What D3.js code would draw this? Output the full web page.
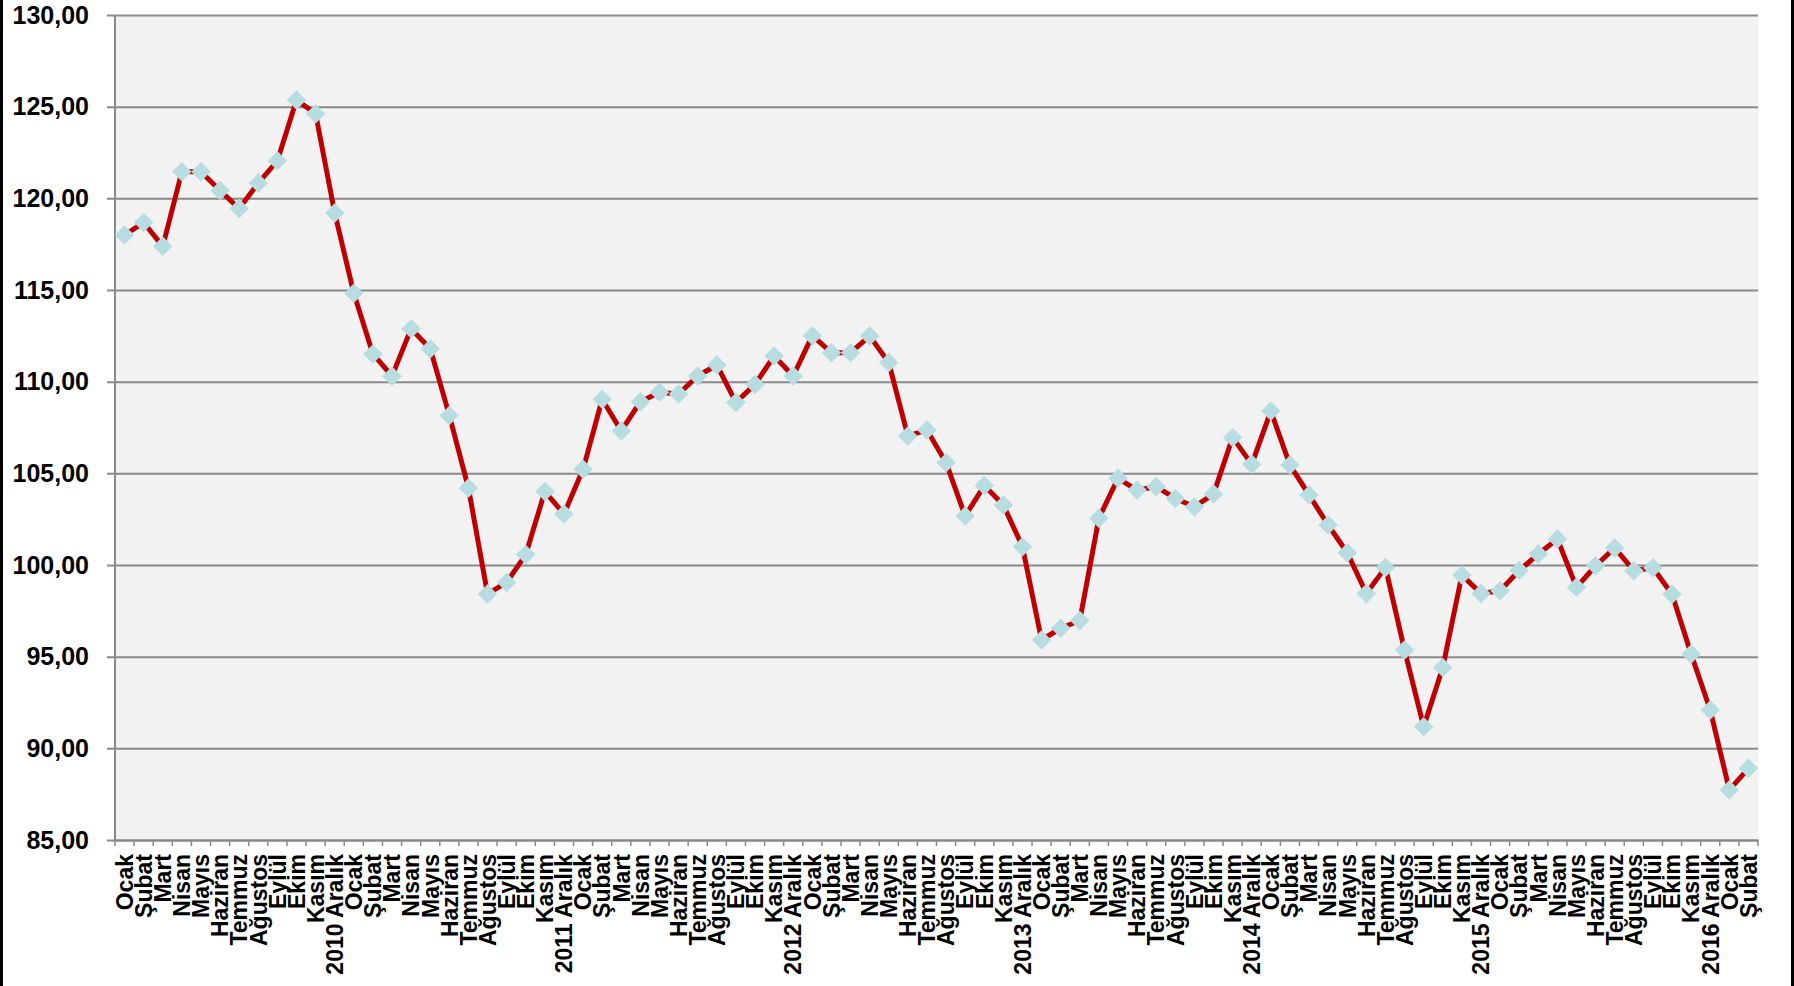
<!DOCTYPE html>
<html>
<head>
<meta charset="utf-8">
<script src="https://cdn.jsdelivr.net/npm/d3@7"></script>
<style>
  body { margin: 0; background: #fff; }
  svg { display: block; font-family: "Liberation Sans", Arial, sans-serif; }
</style>
</head>
<body>
<svg class="chart"></svg>
<script>
var w = 1794;
var h = 986;
var margin = { left: 115, right: 36, top: 15, bottom: 146 };

// x categories, one per month (year label goes on December)
var categories = [
  "Ocak", "Şubat", "Mart", "Nisan", "Mayıs", "Haziran", "Temmuz", "Ağustos", "Eylül", "Ekim", "Kasım", "2010 Aralık",
  "Ocak", "Şubat", "Mart", "Nisan", "Mayıs", "Haziran", "Temmuz", "Ağustos", "Eylül", "Ekim", "Kasım", "2011 Aralık",
  "Ocak", "Şubat", "Mart", "Nisan", "Mayıs", "Haziran", "Temmuz", "Ağustos", "Eylül", "Ekim", "Kasım", "2012 Aralık",
  "Ocak", "Şubat", "Mart", "Nisan", "Mayıs", "Haziran", "Temmuz", "Ağustos", "Eylül", "Ekim", "Kasım", "2013 Aralık",
  "Ocak", "Şubat", "Mart", "Nisan", "Mayıs", "Haziran", "Temmuz", "Ağustos", "Eylül", "Ekim", "Kasım", "2014 Aralık",
  "Ocak", "Şubat", "Mart", "Nisan", "Mayıs", "Haziran", "Temmuz", "Ağustos", "Eylül", "Ekim", "Kasım", "2015 Aralık",
  "Ocak", "Şubat", "Mart", "Nisan", "Mayıs", "Haziran", "Temmuz", "Ağustos", "Eylül", "Ekim", "Kasım", "2016 Aralık",
  "Ocak", "Şubat"
];

// index values
var values = [
  118.0, 118.68, 117.38, 121.45, 121.45, 120.43, 119.44, 120.83, 122.05, 125.36, 124.62, 119.2,
  114.82, 111.51, 110.3, 112.89, 111.8, 108.16, 104.2, 98.42, 99.05, 100.57, 104.01, 102.78,
  105.22, 109.04, 107.31, 108.91, 109.42, 109.33, 110.31, 110.91, 108.87, 109.85, 111.4, 110.31,
  112.51, 111.58, 111.58, 112.49, 111.04, 107.04, 107.36, 105.58, 102.67, 104.33, 103.27, 101.0,
  95.91, 96.55, 96.97, 102.55, 104.73, 104.09, 104.27, 103.63, 103.18, 103.87, 106.96, 105.49,
  108.4, 105.45, 103.82, 102.18, 100.67, 98.45, 99.87, 95.36, 91.18, 94.41, 99.45, 98.45,
  98.6, 99.7, 100.6, 101.42, 98.78, 99.96, 100.93, 99.69, 99.85, 98.4, 95.14, 92.09,
  87.73, 88.91
];

var yTicks = [85, 90, 95, 100, 105, 110, 115, 120, 125, 130];

var trLocale = d3.formatLocale({ decimal: ",", thousands: ".", grouping: [3], currency: ["", " TL"] });
var fmt = trLocale.format(".2f");

var svg = d3.select(".chart").attr("width", w).attr("height", h);

// black side bars of the original slide
svg.append("rect").attr("x", 0).attr("y", 0).attr("width", 3).attr("height", h).attr("fill", "#000");
svg.append("rect").attr("x", w - 3).attr("y", 0).attr("width", 3).attr("height", h).attr("fill", "#000");

var pw = w - margin.left - margin.right;
var ph = h - margin.top - margin.bottom;

var xScale = d3.scaleBand().domain(d3.range(categories.length)).range([0, pw]).padding(0);
var yScale = d3.scaleLinear().domain([85, 130]).range([ph, 0]);

var g = svg.append("g").attr("transform", "translate(" + margin.left + "," + margin.top + ")");

// plot background
g.append("rect").attr("width", pw).attr("height", ph).attr("fill", "#f2f2f2");

// y axis with gridlines
var yAxis = d3.axisLeft(yScale).tickValues(yTicks).tickSize(-pw).tickPadding(26).tickFormat(fmt);
var yg = g.append("g").attr("class", "yAxis").call(yAxis);
yg.select(".domain").remove();
yg.selectAll(".tick line")
  .attr("x1", -8)
  .attr("stroke", "#898989")
  .attr("stroke-width", 2);
yg.selectAll(".tick text")
  .attr("fill", "#000")
  .style("font-size", "25px")
  .style("font-weight", "bold");

// left axis line
g.append("line")
  .attr("x1", 0).attr("x2", 0)
  .attr("y1", 0).attr("y2", ph)
  .attr("stroke", "#898989")
  .attr("stroke-width", 2);

// x axis: labels at band centers, ticks on band edges
var xAxis = d3.axisBottom(xScale).tickSize(0).tickPadding(0).tickFormat(function (i) { return categories[i]; });
var xg = g.append("g").attr("class", "xAxis").attr("transform", "translate(0," + ph + ")").call(xAxis);
xg.select(".domain").attr("stroke", "#898989").attr("stroke-width", 2);
xg.selectAll(".tick text")
  .attr("transform", "rotate(-90)")
  .attr("text-anchor", "end")
  .attr("x", -14)
  .attr("y", 0)
  .attr("dy", "0.36em")
  .attr("fill", "#000")
  .style("font-size", "23px")
  .style("font-weight", "bold");

xg.selectAll("line.edge")
  .data(d3.range(categories.length + 1))
  .join("line")
  .attr("class", "edge")
  .attr("x1", function (i) { return i * xScale.step(); })
  .attr("x2", function (i) { return i * xScale.step(); })
  .attr("y1", 0)
  .attr("y2", 6)
  .attr("stroke", "#898989")
  .attr("stroke-width", 1.5);

var cx = function (d, i) { return xScale(i) + xScale.bandwidth() / 2; };

var line = d3.line()
  .x(cx)
  .y(function (d) { return yScale(d); });

g.append("path")
  .datum(values)
  .attr("d", line)
  .attr("fill", "none")
  .attr("stroke", "#c00000")
  .attr("stroke-width", 5)
  .attr("stroke-linejoin", "round");

// diamond markers
var diamond = d3.symbol().type(d3.symbolSquare).size(190);
g.selectAll("path.marker")
  .data(values)
  .join("path")
  .attr("class", "marker")
  .attr("d", diamond)
  .attr("transform", function (d, i) {
    return "translate(" + cx(d, i) + "," + yScale(d) + ") rotate(45)";
  })
  .attr("fill", "#b7dde1");
</script>
</body>
</html>
